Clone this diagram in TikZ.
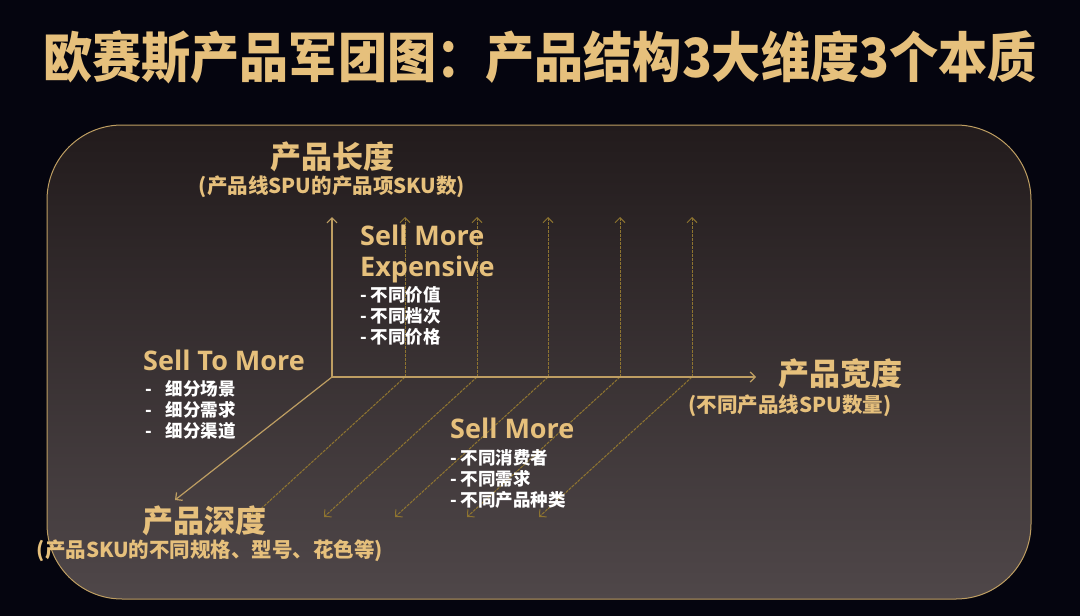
\documentclass[tikz,border=0pt]{standalone}
\usepackage{fontspec}
\usetikzlibrary{arrows.meta}
\newfontfamily\cjk{Noto Sans CJK SC}
\newfontfamily\cjktitle{Noto Sans CJK SC}[FakeStretch=0.91]
\newfontfamily\lat{Open Sans}
\definecolor{bgdark}{HTML}{05050F}
\definecolor{paneltop}{HTML}{221B1C}
\definecolor{panelbot}{HTML}{4F4749}
\definecolor{gold}{HTML}{E6C07C}
\definecolor{axisgold}{HTML}{BE9E62}
\definecolor{dashgold}{HTML}{8E7430}
\tikzset{
  x=1pt, y=-1pt,
  titletext/.style={inner sep=0pt, text=gold, font=\cjktitle\bfseries\fontsize{54}{60}\selectfont},
  headtext/.style={inner sep=0pt, text=gold, font=\cjk\bfseries\fontsize{31}{34}\selectfont},
  subtext/.style={inner sep=0pt, text=gold, font=\cjk\bfseries\fontsize{20.5}{24}\selectfont},
  selltext/.style={inner sep=0pt, anchor=base west, text=gold, font=\lat\bfseries\fontsize{27}{30}\selectfont},
  itemtext/.style={inner sep=0pt, anchor=base west, text=white, font=\cjk\bfseries\fontsize{17.5}{20}\selectfont},
  axisline/.style={draw=axisgold, line width=1.2pt, -{Straight Barb[length=5pt,width=10pt]}},
  gridline/.style={draw=dashgold, line width=1pt, dash pattern=on 3pt off 1pt, -{Straight Barb[length=5pt,width=10pt]}},
}
\begin{document}
\begin{tikzpicture}
\useasboundingbox (0,0) rectangle (1080,616);
\fill[bgdark] (0,0) rectangle (1080,616);
% panel
\shade[top color=paneltop, bottom color=panelbot, rounded corners=75pt] (47,125) rectangle (1031,599);
\draw[axisgold, line width=1pt, rounded corners=75pt] (47,125) rectangle (1031,599);

% title
\node[titletext] (title) at (540,57) {欧赛斯产品军团图：产品结构3大维度3个本质};

% axes coordinates
\coordinate (O) at (332,377);
\coordinate (Up) at (332,217);
\coordinate (Right) at (756,377);
\coordinate (Down) at (175,500);

% dashed grid lines
\foreach \i/\xx in {1/405,2/477,3/548,4/620,5/692}{
  \coordinate (b\i) at (\xx,377);
  \coordinate (t\i) at (\xx,217);
  \coordinate (d\i) at ({\xx-153},517);
  \draw[gridline] (b\i) -- (t\i);
  \draw[gridline] (b\i) -- (d\i);
}

% main axes
\draw[axisline] (O) -- (Up);
\draw[axisline] (O) -- (Right);
\draw[axisline] (O) -- (Down);

% axis labels
\node[headtext] (lenT) at (332,157) {产品长度};
\node[subtext] (lenS) at (332,187) {(产品线SPU的产品项SKU数)};
\node[headtext] (widT) at (840,374) {产品宽度};
\node[subtext] (widS) at (790,406) {(不同产品线SPU数量)};
\node[headtext] (depT) at (204,521) {产品深度};
\node[subtext] (depS) at (210,551) {(产品SKU的不同规格、型号、花色等)};

% Sell More Expensive
\node[selltext] (smeA) at (360,245) {Sell More};
\node[selltext] (smeB) at (360,276) {Expensive};
\node[itemtext] (smeC) at (360,301) {- 不同价值};
\node[itemtext] (smeD) at (360,322) {- 不同档次};
\node[itemtext] (smeE) at (360,343) {- 不同价格};

% Sell To More
\node[selltext] (stmA) at (143,370) {Sell To More};
\node[itemtext] (stmB) at (145,395) {-\hspace{14pt}细分场景};
\node[itemtext] (stmC) at (145,416) {-\hspace{14pt}细分需求};
\node[itemtext] (stmD) at (145,437) {-\hspace{14pt}细分渠道};

% Sell More
\node[selltext] (smA) at (450,438) {Sell More};
\node[itemtext] (smB) at (450,464) {- 不同消费者};
\node[itemtext] (smC) at (450,485) {- 不同需求};
\node[itemtext] (smD) at (450,506) {- 不同产品种类};
\end{tikzpicture}
\end{document}
